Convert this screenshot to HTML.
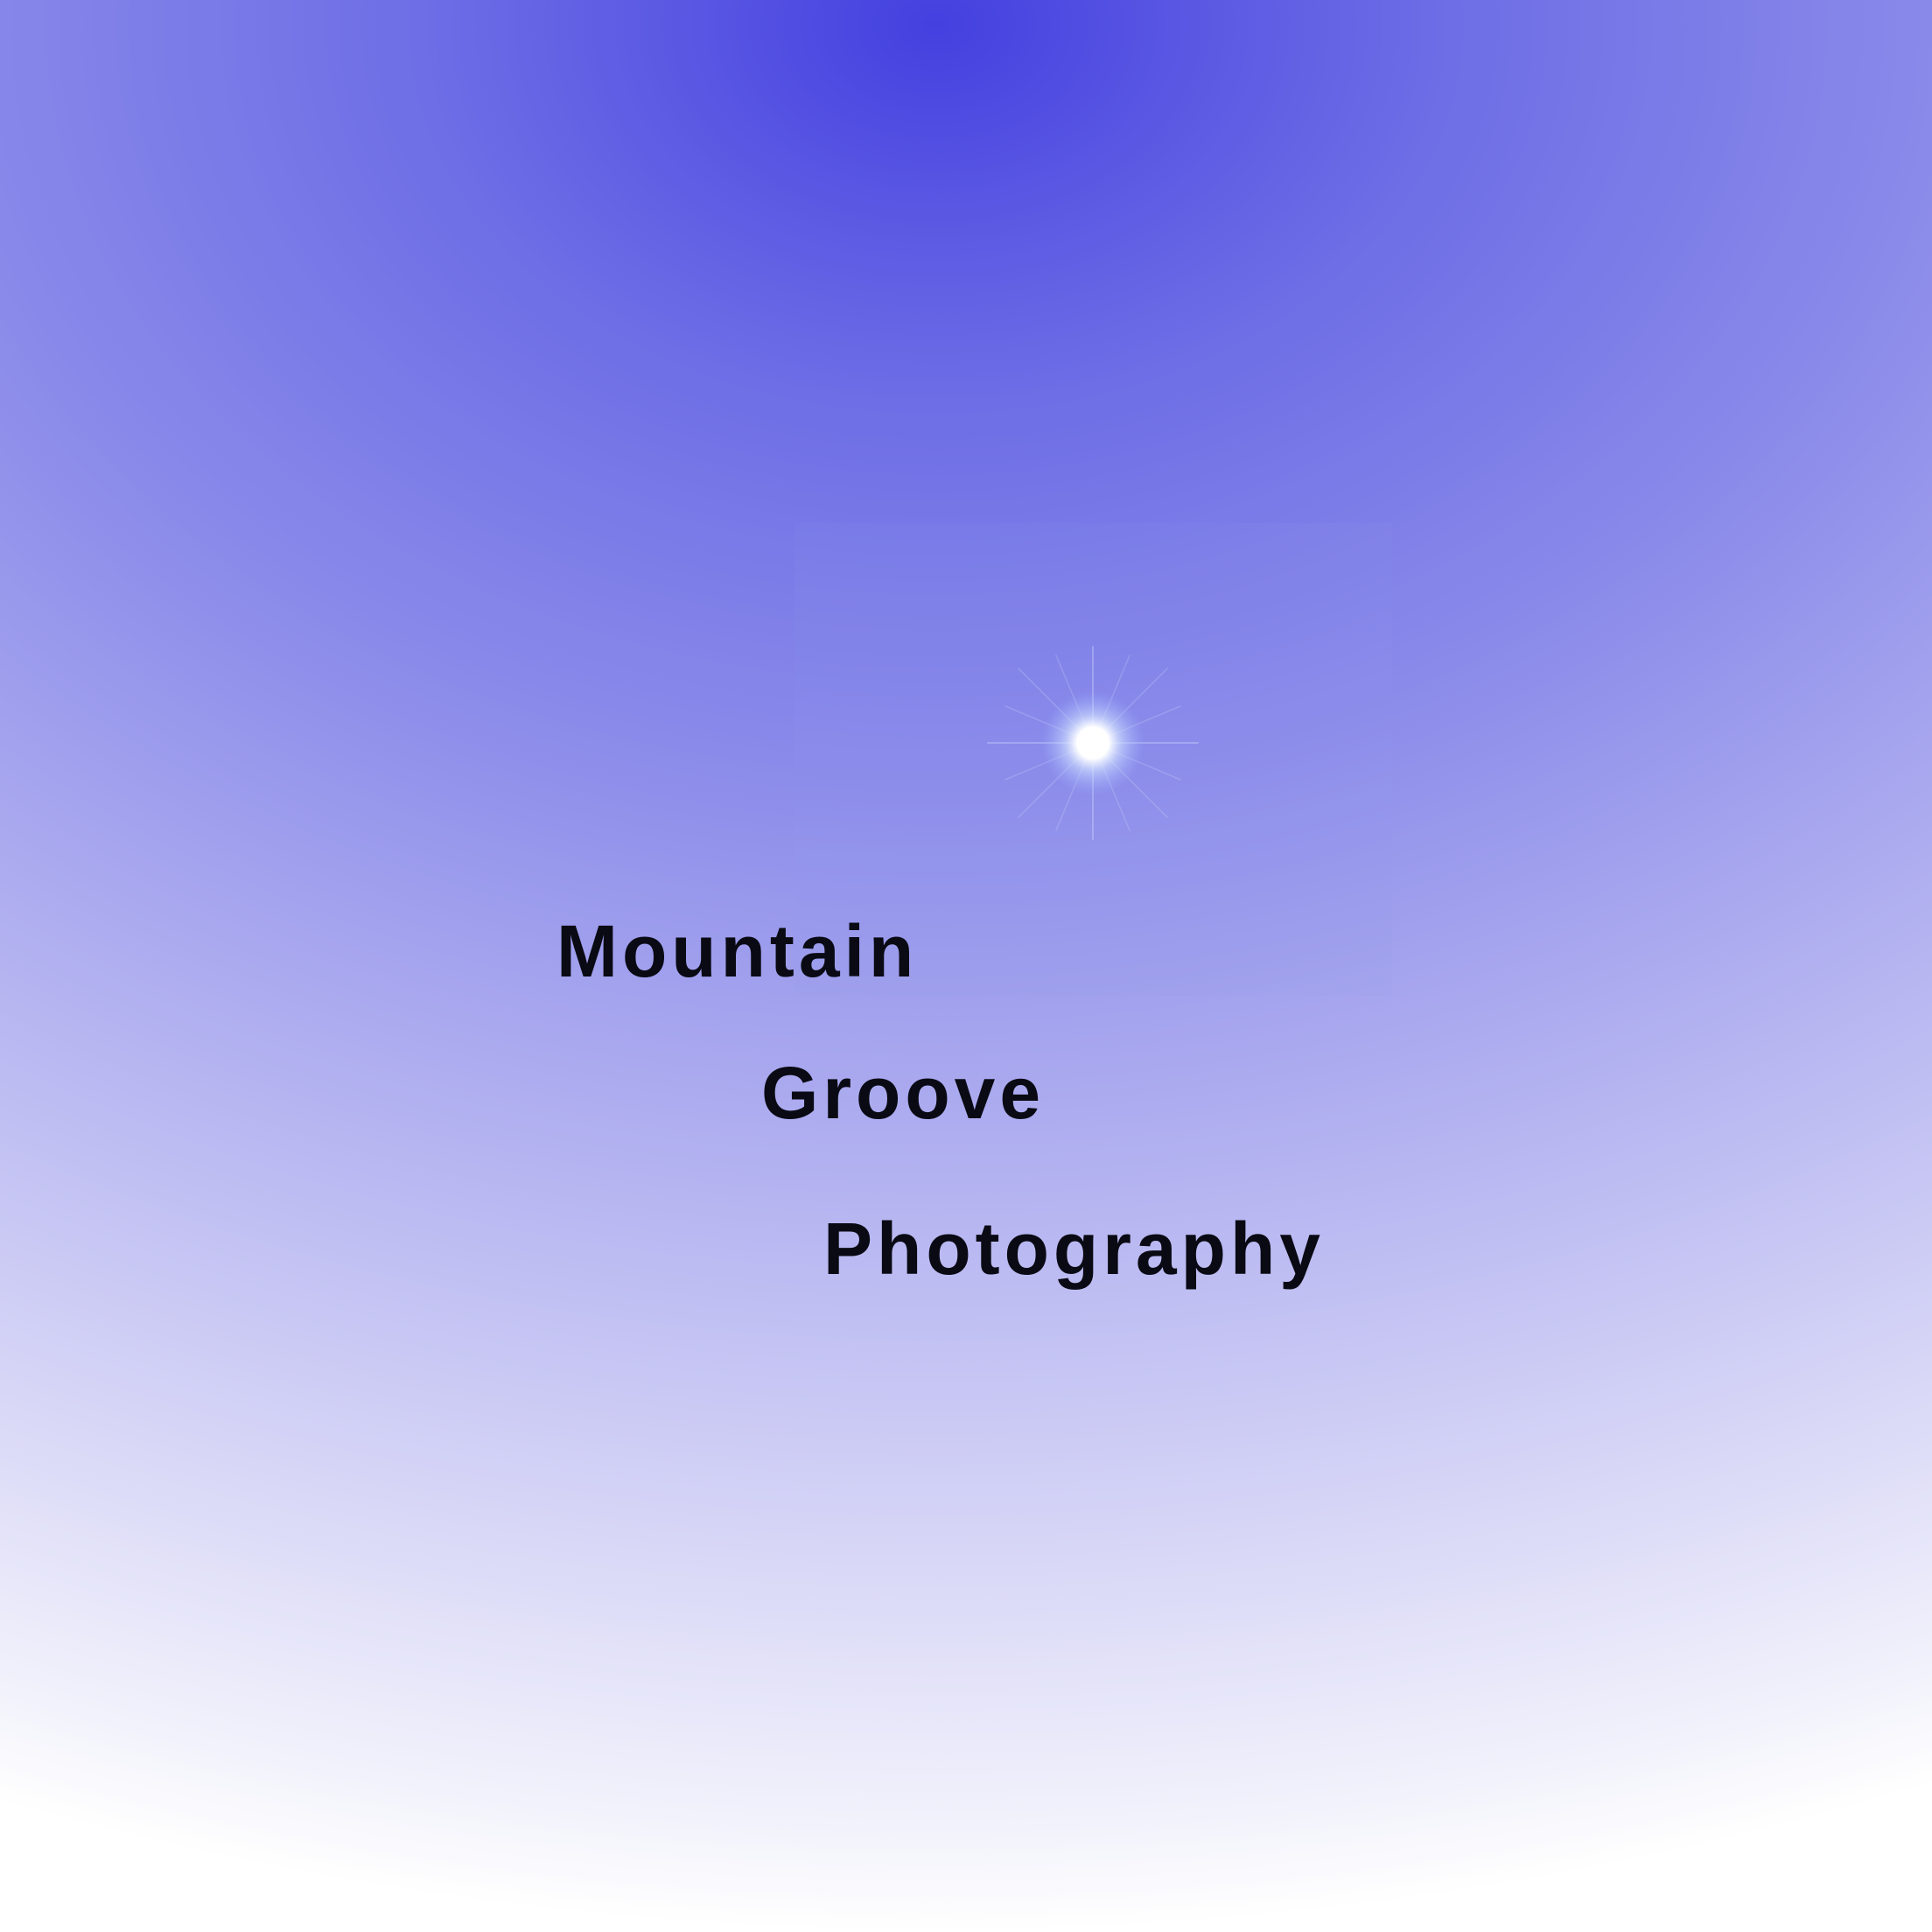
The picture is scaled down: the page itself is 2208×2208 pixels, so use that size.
<!DOCTYPE html>
<html><head><meta charset="utf-8">
<style>
html,body{margin:0;padding:0;}
body{width:2208px;height:2208px;overflow:hidden;position:relative;
background:radial-gradient(ellipse 2950px 2180px at 1070px 28px,#4340e0 0%,#5a58e3 10%,#6e6ee6 20%,#8a8aea 39%,#b0aff0 59%,#d5d4f6 79%,#f3f3fc 95%,#ffffff 100%);
font-family:"Liberation Sans",sans-serif;}
.sq{position:absolute;left:908px;top:598px;width:683px;height:540px;background:rgba(150,160,240,0.10);}
.t{position:absolute;font-weight:bold;font-size:84px;color:#0a0a14;line-height:1;letter-spacing:5px;}
svg{position:absolute;left:0;top:0;}
</style></head>
<body>
<div class="sq"></div>
<svg width="2208" height="2208">
<defs>
<radialGradient id="g"><stop offset="0" stop-color="#fff"/><stop offset="0.3" stop-color="#fff"/><stop offset="0.55" stop-color="#cfe0ff" stop-opacity="0.6"/><stop offset="1" stop-color="#9fb0ff" stop-opacity="0"/></radialGradient>
</defs>
<g transform="translate(1249,849)" stroke="#e0ecff" stroke-linecap="round">
<line x1="-120" y1="0" x2="120" y2="0" stroke-width="2" opacity="0.3"/>
<line x1="0" y1="-110" x2="0" y2="110" stroke-width="2" opacity="0.3"/>
<line x1="-85" y1="-85" x2="85" y2="85" stroke-width="1.5" opacity="0.22"/>
<line x1="-85" y1="85" x2="85" y2="-85" stroke-width="1.5" opacity="0.22"/>
<line x1="-100" y1="-42" x2="100" y2="42" stroke-width="1.5" opacity="0.2"/>
<line x1="-100" y1="42" x2="100" y2="-42" stroke-width="1.5" opacity="0.2"/>
<line x1="-42" y1="-100" x2="42" y2="100" stroke-width="1.5" opacity="0.2"/>
<line x1="-42" y1="100" x2="42" y2="-100" stroke-width="1.5" opacity="0.2"/>
<circle r="60" fill="url(#g)" stroke="none"/>
<circle r="17" fill="#fff" stroke="none"/>
</g>
</svg>
<div class="t" style="left:636px;top:1045px;">Mountain</div>
<div class="t" style="left:870px;top:1207px;">Groove</div>
<div class="t" style="left:941px;top:1385px;">Photography</div>
</body></html>
